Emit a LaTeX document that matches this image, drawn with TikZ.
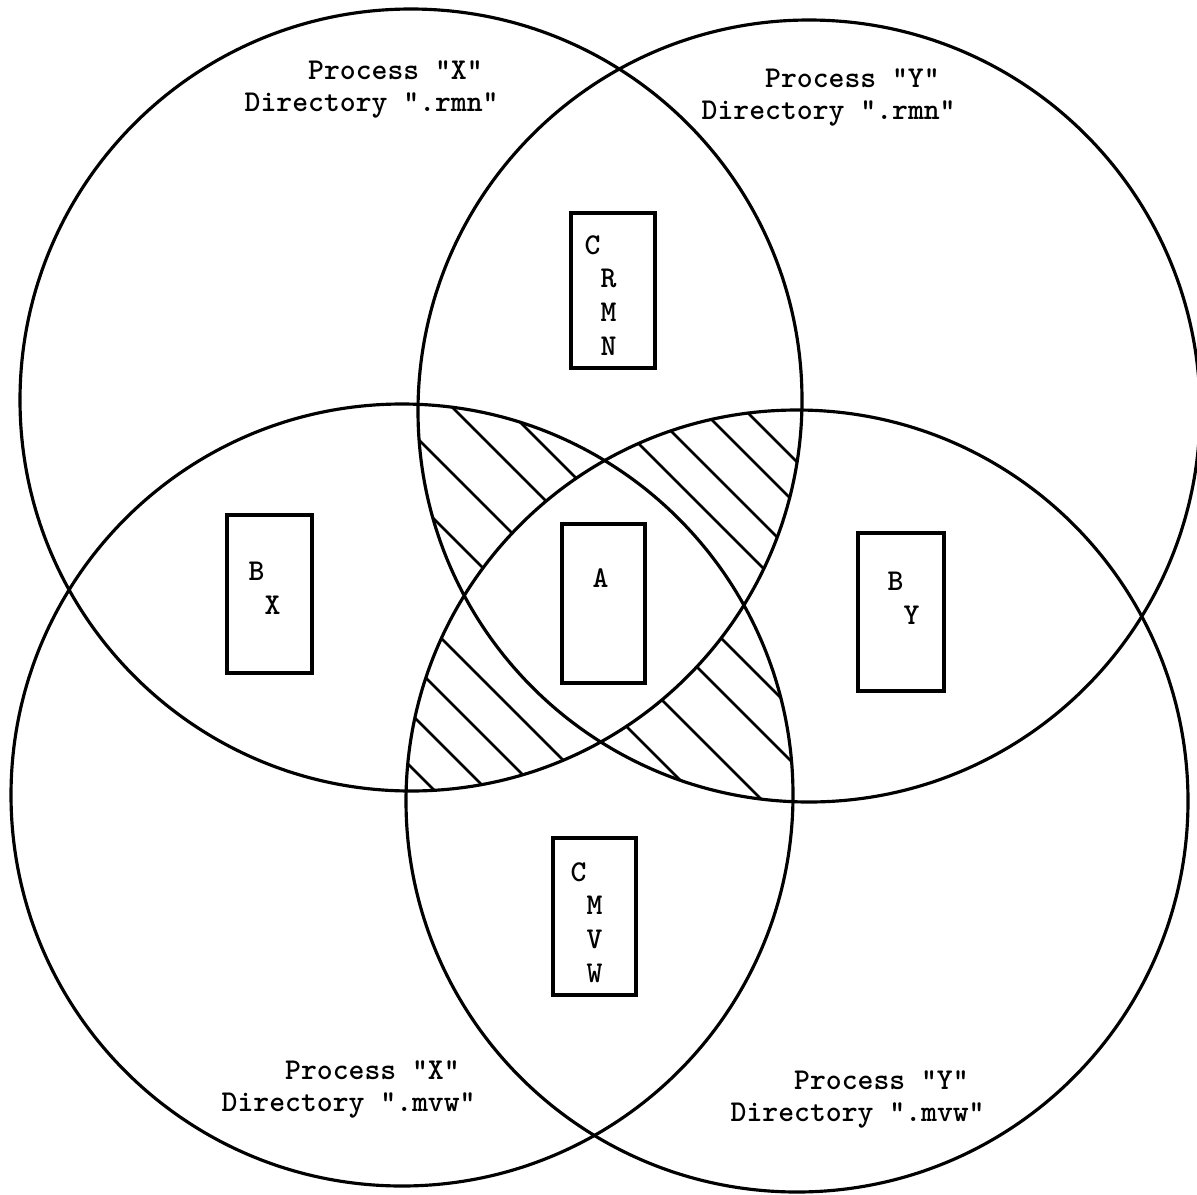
\documentclass[tikz,border=0pt]{standalone}
\usetikzlibrary{positioning}
\newcommand{\typed}{\ttfamily\bfseries\fontsize{8.6pt}{9.2pt}\selectfont}
\newcommand{\celltext}{\ttfamily\bfseries\fontsize{8.6pt}{9.6pt}\selectfont}
\begin{document}
\begin{tikzpicture}[x=0.1mm, y=-0.1mm,
  ring/.style={line width=0.9pt},
  hatch/.style={line width=0.75pt},
  cell/.style={draw, line width=1pt, inner sep=0pt},
  tag/.style={font=\celltext, inner sep=0pt, align=left, anchor=north west},
  heading/.style={font=\typed, inner sep=0pt, align=left, anchor=north west}]
  \fill[white] (0,0) rectangle (1197,1194);
  \useasboundingbox (0,0) rectangle (1197,1194);
  \coordinate (xr) at (411,400);
  \coordinate (yr) at (809,411);
  \coordinate (xm) at (402,795);
  \coordinate (ym) at (797,801);
  % hatched: inside three of the four circles
  \foreach \a/\b/\c/\ks in {xr/yr/xm/{-85,-21,45,98},xr/yr/ym/{195,240,292,335},xr/xm/ym/{-197,-252,-303,-356},yr/xm/ym/{83,30,-38,-100}}{
    \begin{scope}
      \clip (\a) circle (39.1mm);
      \clip (\b) circle (39.1mm);
      \clip (\c) circle (39.1mm);
      \foreach \k in \ks
        \draw[hatch] (300,{300-\k}) -- (900,{900-\k});
    \end{scope}
  }
  % middle: inside all four
  \begin{scope}
    \clip (xr) circle (39.1mm);
    \clip (yr) circle (39.1mm);
    \clip (xm) circle (39.1mm);
    \fill[white] (ym) circle (39.1mm);
  \end{scope}
  \foreach \p in {xr,yr,xm,ym}
    \draw[ring] (\p) circle (39.1mm);
  % boxes
  \node[cell, minimum width=8.4mm, minimum height=15.5mm] (crmn) at (613,290.5) {};
  \node[cell, minimum width=8.5mm, minimum height=15.8mm] (bx) at (269.5,594) {};
  \node[cell, minimum width=8.3mm, minimum height=15.9mm] (a) at (603.5,603.5) {};
  \node[cell, minimum width=8.6mm, minimum height=15.8mm] (by) at (901,612) {};
  \node[cell, minimum width=8.3mm, minimum height=15.7mm] (cmvw) at (594.5,916.5) {};
  \node[tag] (crmnt) at (584,234.5) {C\\\ R\\\ M\\\ N};
  \node[tag] (bxt) at (248,561.5) {B\\\ X};
  \node[tag] (atext) at (592,567.5) {A};
  \node[tag] (byt) at (887,571.5) {B\\\ Y};
  \node[tag] (cmvwt) at (570,861.5) {C\\\ M\\\ V\\\ W};
  % circle headings
  \node[heading] (xrt) at (244,59.5) {\ \ \ \ Process "X"\\Directory ".rmn"};
  \node[heading] (yrt) at (701,67.5) {\ \ \ \ Process "Y"\\Directory ".rmn"};
  \node[heading] (xmt) at (221,1059.5) {\ \ \ \ Process "X"\\Directory ".mvw"};
  \node[heading] (ymt) at (730,1069.5) {\ \ \ \ Process "Y"\\Directory ".mvw"};
\end{tikzpicture}
\end{document}
